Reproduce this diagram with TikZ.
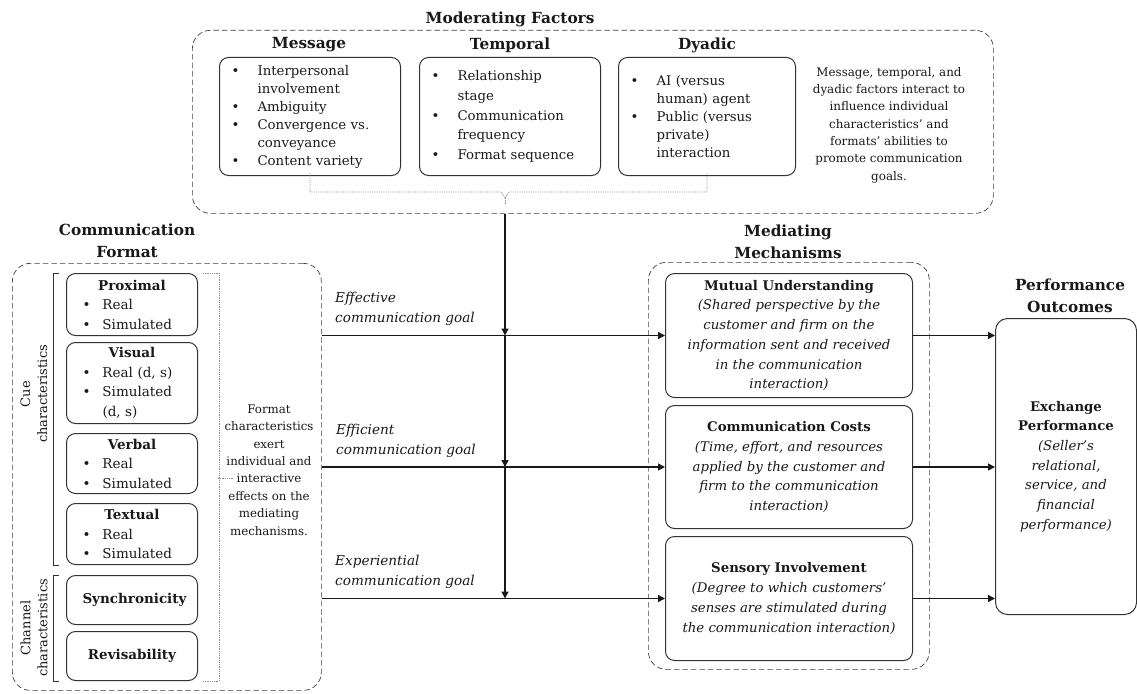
\documentclass[tikz,border=0pt]{standalone}
\usepackage{fontspec}
\setmainfont{DejaVu Serif}
\usetikzlibrary{arrows.meta}

\newcommand{\bul}{\makebox[26pt][l]{\textbullet}}
\newcommand{\ind}{\hspace*{26pt}}
\newcommand{\cbul}{\makebox[20pt][l]{\textbullet}}
\newcommand{\cind}{\hspace*{20pt}}
\newcommand{\boxhead}[1]{\makebox[\linewidth][c]{\bfseries #1}}

\begin{document}
\begin{tikzpicture}[x=1pt,y=1pt,yscale=-1,xscale=1,
    frame/.style={draw=black!75, line width=0.7pt, dash pattern=on 5.5pt off 3pt, rounded corners=18pt, inner sep=0pt},
    card/.style={draw=black!80, line width=1pt, rounded corners=9pt, inner sep=0pt, text=black!90},
    head/.style={font=\fontsize{15.3}{22}\selectfont\bfseries, align=center, inner sep=0pt, text=black!90},
    modlist/.style={card, anchor=north west, minimum width=181pt, minimum height=118pt, text width=157pt, align=left},
    cuebox/.style={card, anchor=north west, minimum width=131pt, text width=99pt, align=left, font=\fontsize{13.5}{19.5}\selectfont},
    medbox/.style={card, anchor=north west, minimum width=247pt, align=center, font=\fontsize{13.3}{19.7}\selectfont},
    note/.style={align=center, inner sep=0pt, text=black!90},
    goal/.style={align=left, inner sep=0pt, anchor=south west, font=\fontsize{13.6}{20}\selectfont\itshape, text=black!90},
    brace/.style={draw=black!45, line width=0.8pt, densely dotted},
    flow/.style={draw=black!90, line width=1.3pt, -{Triangle[length=7pt,width=7pt]}}]

\useasboundingbox (0,0) rectangle (1137,693);

% moderating factors
\node[frame, anchor=north west, minimum width=801pt, minimum height=183pt] (modf) at (192,30) {};
\node[head] (modt) at (510,19) {Moderating Factors};
\node[head] (msgt) at (309,45) {Message};
\node[head] (temt) at (510,45) {Temporal};
\node[head] (dyat) at (707,45) {Dyadic};
\node[modlist, font=\fontsize{13.3}{18}\selectfont] (msg) at (219,57) {\bul Interpersonal\\\ind involvement\\\bul Ambiguity\\\bul Convergence vs.\\\ind conveyance\\\bul Content variety};
\node[modlist, font=\fontsize{13.3}{19.7}\selectfont] (tem) at (419,57) {\bul Relationship\\\ind stage\\\bul Communication\\\ind frequency\\\bul Format sequence};
\node[modlist, font=\fontsize{13.3}{17.8}\selectfont, minimum width=177pt, text width=153pt] (dya) at (618,57) {\bul AI (versus\\\ind human) agent\\\bul Public (versus\\\ind private)\\\ind interaction};
\node[note, font=\fontsize{11.9}{17.3}\selectfont] (modn) at (889,125) {Message, temporal, and\\dyadic factors interact to\\influence individual\\characteristics' and\\formats' abilities to\\promote communication\\goals.};
\coordinate (tap) at (505,198);
\draw[brace] ([yshift=-3pt]msg.south) |- (501,192) -- (tap) -- (509,192) -| ([yshift=-3pt]dya.south);
\draw[brace] (tap) -- ++(0,7);

% communication format
\node[head] (fmtt) at (127,241) {Communication\\Format};
\node[frame, anchor=north west, minimum width=309pt, minimum height=427pt] (fmt) at (12,263) {};
\node[cuebox, minimum height=62pt] (prox) at (66,273) {\boxhead{Proximal}\\\cbul Real\\\cbul Simulated};
\node[cuebox, minimum height=81pt] (visu) at (66,342) {\boxhead{Visual}\\\cbul Real (d, s)\\\cbul Simulated\\\cind (d, s)};
\node[cuebox, minimum height=60pt] (verb) at (66,433) {\boxhead{Verbal}\\\cbul Real\\\cbul Simulated};
\node[cuebox, minimum height=61pt] (textl) at (66,503) {\boxhead{Textual}\\\cbul Real\\\cbul Simulated};
\node[cuebox, minimum height=49pt, align=center] (sync) at (66,575) {\bfseries Synchronicity};
\node[cuebox, minimum height=49pt, align=center] (revis) at (66,631) {\bfseries Revisability};
\draw[draw=black!80, line width=0.8pt] ([xshift=-7pt]prox.north west) -- ([xshift=-13pt]prox.north west) -- ([xshift=-13pt]textl.south west) -- ([xshift=-7pt]textl.south west);
\draw[draw=black!80, line width=0.8pt] ([xshift=-7pt]sync.north west) -- ([xshift=-13pt]sync.north west) -- ([xshift=-13pt]revis.south west) -- ([xshift=-7pt]revis.south west);
\node[note, rotate=90, font=\fontsize{13}{17}\selectfont] (cuel) at (34,394) {Cue\\characteristics};
\node[note, rotate=90, font=\fontsize{13}{17}\selectfont] (chanl) at (34,628) {Channel\\characteristics};
\draw[brace] ([xshift=5pt]prox.north east) -- ++(16,0) |- ([xshift=5pt]revis.south east);
\draw[brace] (218,478) -- (233,478);
\node[note, font=\fontsize{11.8}{17.4}\selectfont] (fmtn) at (269,470) {Format\\characteristics\\exert\\individual and\\interactive\\effects on the\\mediating\\mechanisms.};

% mediating mechanisms
\node[head] (medt) at (788,242) {Mediating\\Mechanisms};
\node[frame, anchor=north west, minimum width=281pt, minimum height=407pt] (medf) at (648,262) {};
\node[medbox, minimum height=124pt] (mu) at (665,273) {\textbf{Mutual Understanding}\\\itshape (Shared perspective by the\\\itshape customer and firm on the\\\itshape information sent and received\\\itshape in the communication\\\itshape interaction)};
\node[medbox, minimum height=123pt] (cc) at (665,405) {\textbf{Communication Costs}\\\itshape (Time, effort, and resources\\\itshape applied by the customer and\\\itshape firm to the communication\\\itshape interaction)};
\node[medbox, minimum height=124pt] (si) at (665,536) {\textbf{Sensory Involvement}\\\itshape (Degree to which customers'\\\itshape senses are stimulated during\\\itshape the communication interaction)};

% performance outcomes
\node[head] (perft) at (1070,296) {Performance\\Outcomes};
\node[card, anchor=north west, minimum width=141pt, minimum height=296pt, align=center, font=\fontsize{13.3}{19.7}\selectfont, rounded corners=12pt] (perf) at (995,318) {\textbf{Exchange}\\\textbf{Performance}\\\itshape (Seller's\\\itshape relational,\\\itshape service, and\\\itshape financial\\\itshape performance)};

% goals
\draw[flow] (fmt.east |- mu.west) -- (mu.west);
\draw[flow] (fmt.east |- cc.west) -- (cc.west);
\draw[flow] (fmt.east |- si.west) -- (si.west);
\node[goal] (g1) at (335,326) {Effective\\communication goal};
\node[goal] (g2) at (336,458) {Efficient\\communication goal};
\node[goal] (g3) at (335,589) {Experiential\\communication goal};
\draw[flow] (tap |- modf.south) -- (tap |- mu.west);
\draw[flow] (tap |- mu.west) -- (tap |- cc.west);
\draw[flow] (tap |- cc.west) -- (tap |- si.west);
\draw[flow] (mu.east) -- (perf.west |- mu.east);
\draw[flow] (cc.east) -- (perf.west |- cc.east);
\draw[flow] (si.east) -- (perf.west |- si.east);
\end{tikzpicture}
\end{document}
